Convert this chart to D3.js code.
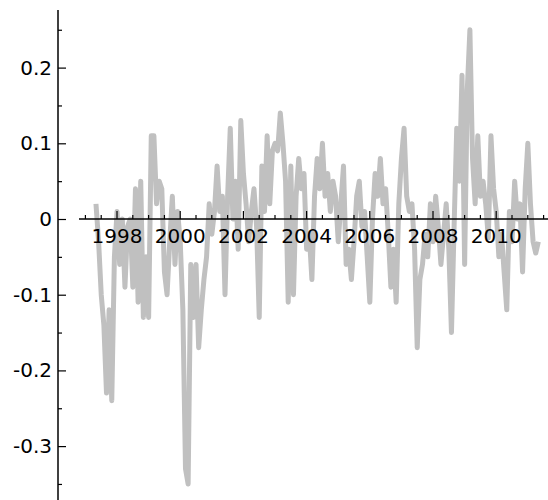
<!DOCTYPE html>
<html>
<head>
<meta charset="utf-8">
<script src="https://cdn.jsdelivr.net/npm/d3@7"></script>
<style>
  body { margin: 0; background: #fff; }
  text { font-family: "DejaVu Sans", sans-serif; }
</style>
</head>
<body>
<script>
// monthly series, first point at 1997.35
const startYear = 1997.35;
const values = [
  0.02, -0.03, -0.10, -0.14, -0.23, -0.12, -0.24, -0.05, 0.01, -0.06,
  0.0, -0.09, -0.01, 0.0, -0.09, 0.04, -0.11, 0.05, -0.13, -0.05,
  -0.13, 0.11, 0.11, 0.02, 0.05, 0.04, -0.07, -0.10, -0.03, 0.03,
  -0.06, 0.01, -0.03, -0.12, -0.33, -0.35, -0.06, -0.13, -0.06, -0.17,
  -0.12, -0.08, -0.05, 0.02, -0.02, 0.01, 0.07, 0.01, 0.03, -0.10,
  0.03, 0.12, 0.0, 0.05, -0.04, 0.13, 0.06, 0.02, -0.03, 0.01,
  0.04, -0.01, -0.13, 0.07, 0.01, 0.11, 0.02, 0.09, 0.10, 0.09,
  0.14, 0.10, 0.05, -0.11, 0.07, -0.10, 0.03, 0.08, 0.04, 0.06,
  -0.04, -0.02, -0.08, 0.03, 0.08, 0.04, 0.10, 0.03, 0.06, 0.01,
  0.05, 0.03, -0.03, 0.02, 0.07, -0.06, -0.04, -0.08, -0.03, 0.03,
  0.05, -0.01, 0.01, -0.05, -0.11, 0.0, 0.06, 0.03, 0.08, 0.02,
  0.04, -0.02, -0.09, -0.04, -0.11, 0.02, 0.08, 0.12, 0.03, 0.01,
  0.02, -0.04, -0.17, -0.08, -0.06, -0.02, -0.05, 0.02, -0.03, 0.03,
  -0.01, -0.06, -0.02, 0.02, -0.04, -0.15, -0.01, 0.12, 0.05, 0.19,
  -0.06, 0.17, 0.25, 0.08, 0.02, 0.11, 0.03, 0.05, 0.02, -0.025,
  0.11, 0.04, 0.01, -0.05, -0.02, -0.07, -0.12, 0.01, -0.03, 0.05,
  0.0, 0.02, -0.07, 0.04, 0.10, 0.02, -0.03, -0.045, -0.03
];
const xMajorTicks = [1998, 2000, 2002, 2004, 2006, 2008, 2010];
const yMajorTicks = [-0.3, -0.2, -0.1, 0, 0.1, 0.2];

const width = 548, height = 500;
const svg = d3.select('body').append('svg')
  .attr('width', width)
  .attr('height', height);

// scales: 1998 -> 116.5px, 31.6px per year; 0 -> 219px, 757px per unit
const x = d3.scaleLinear().domain([1996.813, 2011.655]).range([79, 548]);
const y = d3.scaleLinear().domain([-0.3712, 0.2761]).range([500, 10]);

const data = values.map((v, i) => ({ t: startYear + i / 12, v: v }));

// line
svg.append('path')
  .datum(data)
  .attr('fill', 'none')
  .attr('stroke', '#c0c0c0')
  .attr('stroke-width', 5)
  .attr('stroke-linejoin', 'round')
  .attr('d', d3.line().x(d => x(d.t)).y(d => y(d.v)));

const fmtY = d => d === 0 ? '0' : d3.format('.1f')(d).replace('\u2212', '-');

// y axis at x=58
const yAxisX = 58;
const gy = svg.append('g').attr('transform', `translate(${yAxisX},0)`);
gy.call(d3.axisLeft(y).tickValues(yMajorTicks).tickSize(-8).tickPadding(6).tickFormat(fmtY));
const yMinor = d3.range(-0.35, 0.26, 0.1).map(d => +d.toFixed(2));
gy.append('g').call(d3.axisLeft(y).tickValues(yMinor).tickSize(-4).tickFormat(''));
gy.selectAll('.domain').remove();
gy.append('line').attr('y1', 10).attr('y2', 500)
  .attr('stroke', '#000').attr('stroke-width', 1.5);

// x axis at y=0
const gx = svg.append('g').attr('transform', `translate(0,${y(0)})`);
gx.call(d3.axisBottom(x).tickValues(xMajorTicks).tickSize(-8).tickPadding(10).tickFormat(d3.format('d')));
const xMinor = d3.range(1997, 2011.6, 0.5).filter(d => d % 2 !== 0);
gx.append('g').call(d3.axisBottom(x).tickValues(xMinor).tickSize(-4).tickFormat(''));
gx.selectAll('.domain').remove();
gx.append('line').attr('x1', 79).attr('x2', 548)
  .attr('stroke', '#000').attr('stroke-width', 1.5);

svg.selectAll('.tick line').attr('stroke', '#000').attr('stroke-width', 1.2);
svg.selectAll('.tick text')
  .attr('font-family', '"DejaVu Sans", sans-serif')
  .attr('font-size', 20)
  .attr('fill', '#000');
</script>
</body>
</html>
